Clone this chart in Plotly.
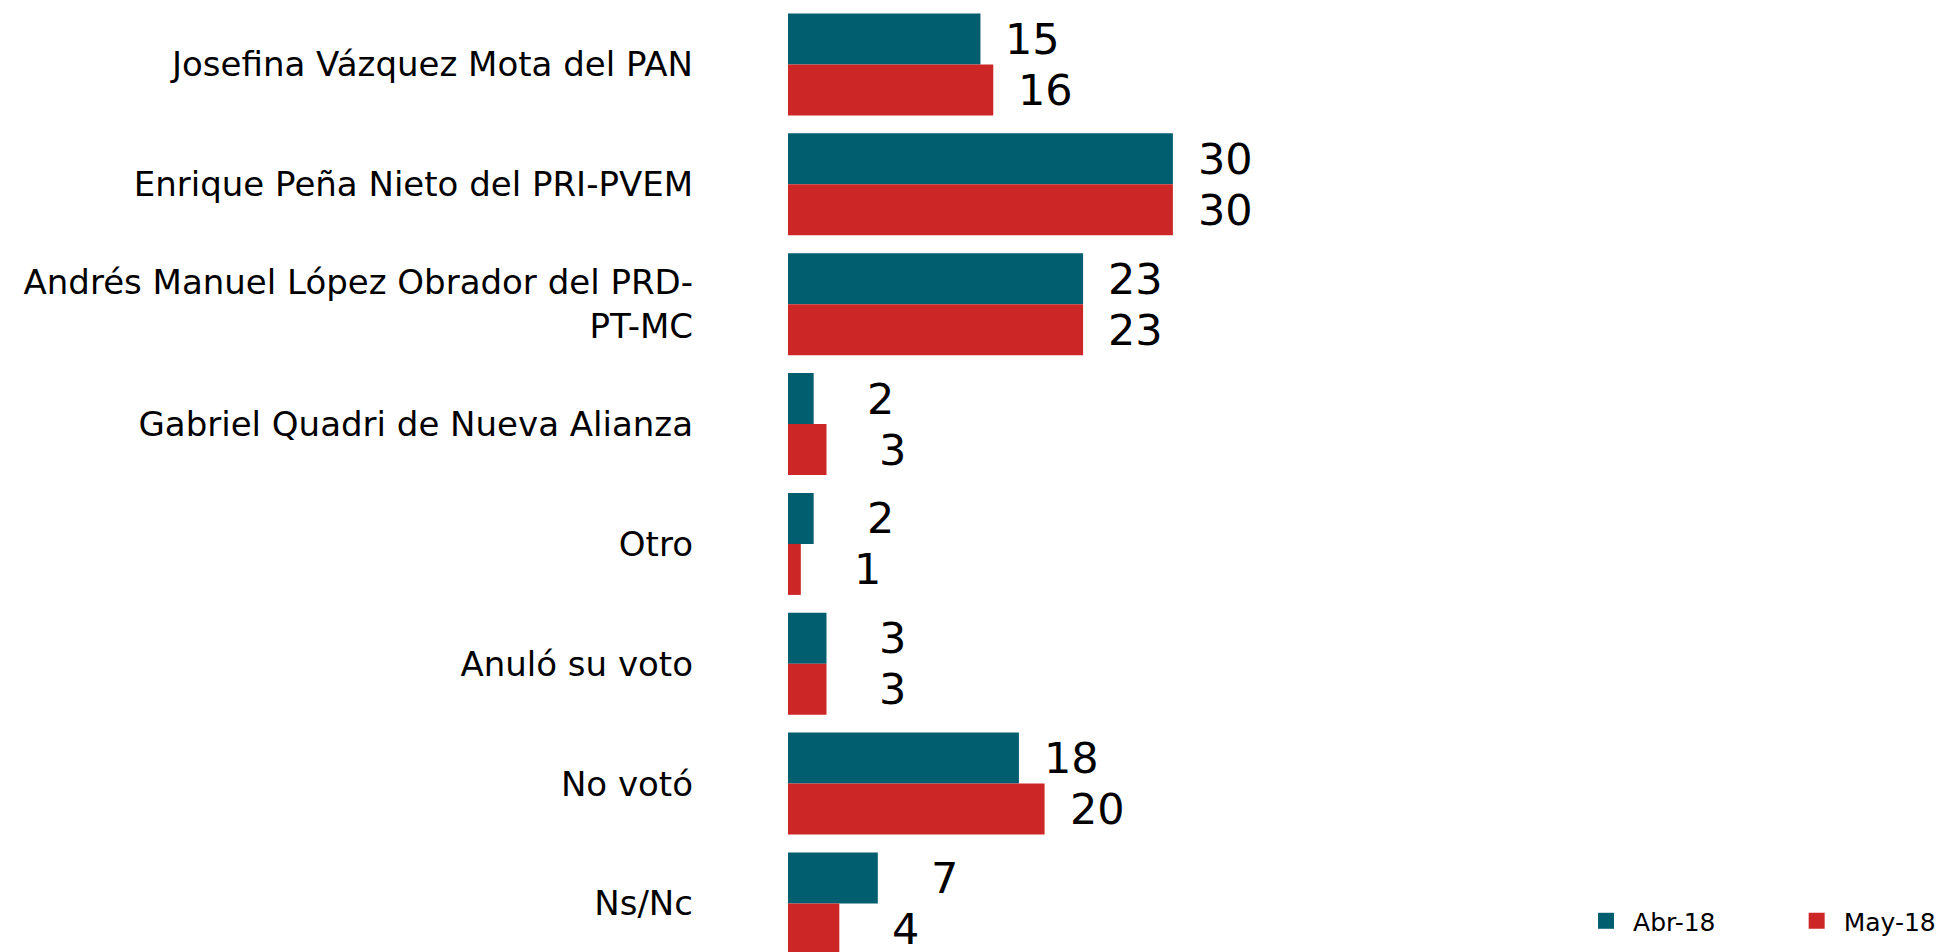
import plotly.graph_objects as go

categories = [
    "Josefina Vázquez Mota del PAN",
    "Enrique Peña Nieto del PRI-PVEM",
    "Andrés Manuel López Obrador del PRD-<br>PT-MC",
    "Gabriel Quadri de Nueva Alianza",
    "Otro",
    "Anuló su voto",
    "No votó",
    "Ns/Nc",
]
abr18 = [15, 30, 23, 2, 2, 3, 18, 7]
may18 = [16, 30, 23, 3, 1, 3, 20, 4]
series_names = ["Abr-18", "May-18"]

TEAL = "#005E6E"
RED = "#CC2627"
FONT = "DejaVu Sans"

fig = go.Figure()
fig.add_trace(go.Bar(y=categories, x=abr18, orientation="h", marker_color=TEAL,
                     marker_line_width=0,
                     name=series_names[0], showlegend=False, hoverinfo="x"))
fig.add_trace(go.Bar(y=categories, x=may18, orientation="h", marker_color=RED,
                     marker_line_width=0,
                     name=series_names[1], showlegend=False, hoverinfo="x"))

# legend-only entries (larger square swatches), each in its own legend box
for nm, col, lg in zip(series_names, [TEAL, RED], ["legend", "legend2"]):
    fig.add_trace(go.Scatter(x=[None], y=[None], mode="markers", name=nm, legend=lg,
                             marker=dict(symbol="square", size=18, color=col)))

annotations = []
for cat, a, m in zip(categories, abr18, may18):
    for val, shift in ((a, 25.5), (m, -25.5)):
        annotations.append(dict(x=val, y=cat, xref="x", yref="y", text=str(val),
                                showarrow=False, xanchor="right", yanchor="middle",
                                xshift=82, yshift=shift,
                                font=dict(family=FONT, size=43, color="#000000")))

legend_common = dict(orientation="h", yanchor="middle", y=0.0328, xanchor="left",
                     font=dict(family=FONT, size=25, color="#000000"),
                     bgcolor="rgba(0,0,0,0)", itemwidth=44)

fig.update_layout(
    width=1938, height=944,
    margin=dict(l=780, r=0, t=0, b=0, autoexpand=False),
    paper_bgcolor="white", plot_bgcolor="white",
    barmode="group", bargap=0.149, bargroupgap=0,
    font=dict(family=FONT, color="#000000"),
    annotations=annotations,
    xaxis=dict(range=[0, 90.26], visible=False, fixedrange=True),
    yaxis=dict(type="category", categoryorder="array", categoryarray=categories,
               range=[7.405, -0.4716], showgrid=False, zeroline=False, showline=False,
               ticks="", ticklabelstandoff=94,
               tickfont=dict(family=FONT, size=34, color="#000000")),
    legend=dict(x=0.6831, **legend_common),
    legend2=dict(x=0.8650, **legend_common),
)

fig.write_html("out.html")
